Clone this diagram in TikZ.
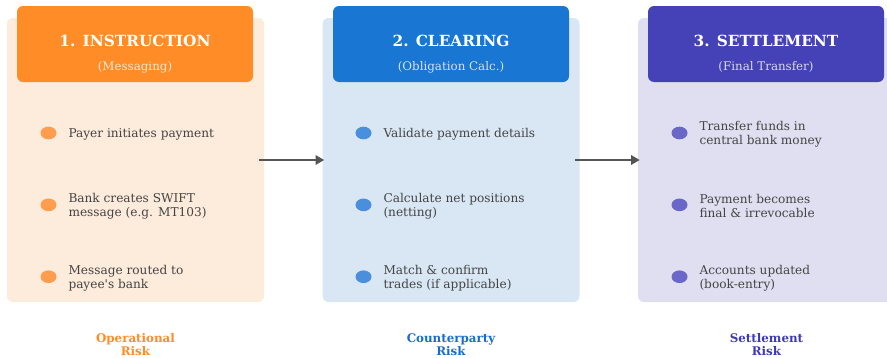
\documentclass[tikz,border=0pt]{standalone}
\usepackage{fontspec}
\setmainfont{DejaVu Serif}[Ligatures=TeXOff]
\usetikzlibrary{positioning,shapes.geometric,arrows.meta}

\definecolor{instrMain}{HTML}{FF8C26}
\definecolor{instrBg}{HTML}{FDEBDC}
\definecolor{instrDot}{HTML}{FF9D4F}
\definecolor{clearMain}{HTML}{1976D2}
\definecolor{clearBg}{HTML}{D9E7F5}
\definecolor{clearDot}{HTML}{4A8FDB}
\definecolor{clearRisk}{HTML}{1A6CCB}
\definecolor{settleMain}{HTML}{4541B6}
\definecolor{settleBg}{HTML}{DFDFF1}
\definecolor{settleDot}{HTML}{6B67C9}
\definecolor{settleRisk}{HTML}{3E3AB2}
\definecolor{itemGray}{HTML}{444444}
\definecolor{arrowGray}{HTML}{555555}

\begin{document}
\begin{tikzpicture}[x=0.75pt,y=-0.75pt]
	\tikzset{panel style/.style={rounded corners=4.5pt, minimum width=192.75pt, minimum height=213pt, inner sep=0pt},
		head style/.style={rounded corners=4.5pt, minimum width=177pt, minimum height=57pt, inner sep=0pt},
		title style/.style={text=white, inner sep=0pt, font=\fontsize{11.5}{13}\selectfont\bfseries},
		sub style/.style={text=white, text opacity=0.8, inner sep=0pt, font=\fontsize{8.9}{10}\selectfont},
		dot style/.style={ellipse, minimum width=12pt, minimum height=9.5pt, inner sep=0pt},
		item style/.style={align=left, text=itemGray, inner sep=0pt, yshift=-1pt, font=\fontsize{9.1}{10.5}\selectfont},
		risk style/.style={align=center, inner sep=0pt, font=\fontsize{8.9}{9.75}\selectfont\bfseries},
		flow/.style={draw=arrowGray, line width=2.2pt, -{Triangle[length=6.5pt,width=7pt]}}}
	\clip (0,0) rectangle (887,357);
	% instruction
	\node[panel style, fill=instrBg] (instr) at (135.5,160) {};
	\node[head style, fill=instrMain] (instrHead) at (135,44) {};
	\node[title style] (instrTitle) at (135,41) {1. INSTRUCTION};
	\node[sub style] (instrSub) at (135,67) {(Messaging)};
	\node[dot style, fill=instrDot] (instrA) at (48.5,133) {};
	\node[dot style, fill=instrDot, below=44pt of instrA] (instrB) {};
	\node[dot style, fill=instrDot, below=44pt of instrB] (instrC) {};
	\node[item style, right=8.6pt of instrA] (instrTextA) {Payer initiates payment};
	\node[item style, right=8.6pt of instrB] (instrTextB) {Bank creates SWIFT\\message (e.g. MT103)};
	\node[item style, right=8.6pt of instrC] (instrTextC) {Message routed to\\payee's bank};
	\node[risk style, text=instrMain] (instrRisk) at (135.5,345) {Operational\\Risk};
	% clearing
	\node[panel style, fill=clearBg] (clear) at (451,160) {};
	\node[head style, fill=clearMain] (clearHead) at (451,44) {};
	\node[title style] (clearTitle) at (451,41) {2. CLEARING};
	\node[sub style] (clearSub) at (451,67) {(Obligation Calc.)};
	\node[dot style, fill=clearDot] (clearA) at (363.5,133) {};
	\node[dot style, fill=clearDot, below=44pt of clearA] (clearB) {};
	\node[dot style, fill=clearDot, below=44pt of clearB] (clearC) {};
	\node[item style, right=8.6pt of clearA] (clearTextA) {Validate payment details};
	\node[item style, right=8.6pt of clearB] (clearTextB) {Calculate net positions\\(netting)};
	\node[item style, right=8.6pt of clearC] (clearTextC) {Match \& confirm\\trades (if applicable)};
	\node[risk style, text=clearRisk] (clearRiskLabel) at (451,345) {Counterparty\\Risk};
	% settlement
	\node[panel style, fill=settleBg] (settle) at (766.5,160) {};
	\node[head style, fill=settleMain] (settleHead) at (766,44) {};
	\node[title style] (settleTitle) at (766,41) {3. SETTLEMENT};
	\node[sub style] (settleSub) at (766,67) {(Final Transfer)};
	\node[dot style, fill=settleDot] (settleA) at (679.5,133) {};
	\node[dot style, fill=settleDot, below=44pt of settleA] (settleB) {};
	\node[dot style, fill=settleDot, below=44pt of settleB] (settleC) {};
	\node[item style, right=8.6pt of settleA] (settleTextA) {Transfer funds in\\central bank money};
	\node[item style, right=8.6pt of settleB] (settleTextB) {Payment becomes\\final \& irrevocable};
	\node[item style, right=8.6pt of settleC] (settleTextC) {Accounts updated\\(book-entry)};
	\node[risk style, text=settleRisk] (settleRiskLabel) at (766.5,345) {Settlement\\Risk};
	% flow between stages
	\draw[flow] ([xshift=-3.75pt]instr.east) -- ([xshift=1.5pt]clear.west);
	\draw[flow] ([xshift=-3.75pt]clear.east) -- ([xshift=1.5pt]settle.west);
\end{tikzpicture}
\end{document}
